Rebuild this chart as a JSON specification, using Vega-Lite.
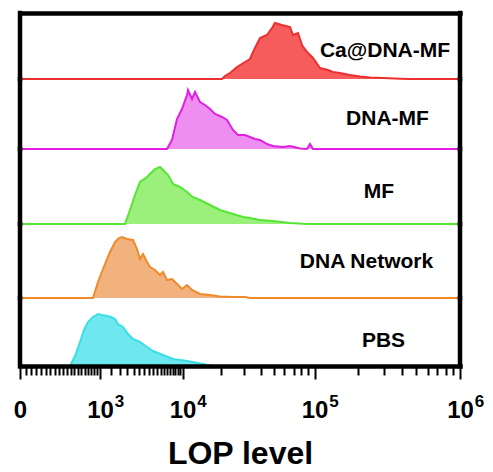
{
  "$schema": "https://vega.github.io/schema/vega-lite/v6.json",
  "padding": {"left": 13, "top": 9, "right": 5, "bottom": 5},
  "background": "white",
  "spacing": 0,
  "bounds": "flush",
  "config": {"view": {"stroke": null}, "font": "Liberation Sans"},
  "datasets": {
    "hist": [
      {"g": "PBS", "x": 0, "c": 0}, {"g": "PBS", "x": 542, "c": 0}, {"g": "PBS", "x": 611, "c": 10}, {"g": "PBS", "x": 682, "c": 24}, {"g": "PBS", "x": 741, "c": 36}, {"g": "PBS", "x": 803, "c": 44}, {"g": "PBS", "x": 882, "c": 49}, {"g": "PBS", "x": 966, "c": 52}, {"g": "PBS", "x": 1084, "c": 51}, {"g": "PBS", "x": 1311, "c": 50}, {"g": "PBS", "x": 1510, "c": 49}, {"g": "PBS", "x": 1727, "c": 47}, {"g": "PBS", "x": 1901, "c": 42}, {"g": "PBS", "x": 2217, "c": 39}, {"g": "PBS", "x": 2567, "c": 32}, {"g": "PBS", "x": 2955, "c": 27}, {"g": "PBS", "x": 3571, "c": 24}, {"g": "PBS", "x": 4282, "c": 19}, {"g": "PBS", "x": 4980, "c": 15}, {"g": "PBS", "x": 5630, "c": 13}, {"g": "PBS", "x": 6351, "c": 11}, {"g": "PBS", "x": 8040, "c": 7}, {"g": "PBS", "x": 10864, "c": 5}, {"g": "PBS", "x": 14522, "c": 2}, {"g": "PBS", "x": 17362, "c": 0}, {"g": "PBS", "x": 1000000, "c": 0},

      {"g": "DNA Network", "x": 0, "c": 0}, {"g": "DNA Network", "x": 882, "c": 0}, {"g": "DNA Network", "x": 966, "c": 16}, {"g": "DNA Network", "x": 1128, "c": 29}, {"g": "DNA Network", "x": 1459, "c": 46}, {"g": "DNA Network", "x": 1727, "c": 56}, {"g": "DNA Network", "x": 1962, "c": 60}, {"g": "DNA Network", "x": 2151, "c": 61}, {"g": "DNA Network", "x": 2494, "c": 59}, {"g": "DNA Network", "x": 2955, "c": 58}, {"g": "DNA Network", "x": 3296, "c": 49}, {"g": "DNA Network", "x": 3571, "c": 39}, {"g": "DNA Network", "x": 3863, "c": 44}, {"g": "DNA Network", "x": 4282, "c": 36}, {"g": "DNA Network", "x": 4620, "c": 31}, {"g": "DNA Network", "x": 5232, "c": 28}, {"g": "DNA Network", "x": 5909, "c": 23}, {"g": "DNA Network", "x": 6351, "c": 26}, {"g": "DNA Network", "x": 6985, "c": 18}, {"g": "DNA Network", "x": 7854, "c": 19}, {"g": "DNA Network", "x": 8818, "c": 14}, {"g": "DNA Network", "x": 9888, "c": 9}, {"g": "DNA Network", "x": 10864, "c": 13}, {"g": "DNA Network", "x": 11904, "c": 8}, {"g": "DNA Network", "x": 13760, "c": 4}, {"g": "DNA Network", "x": 16459, "c": 3}, {"g": "DNA Network", "x": 19651, "c": 1.5}, {"g": "DNA Network", "x": 24690, "c": 1}, {"g": "DNA Network", "x": 30430, "c": 1}, {"g": "DNA Network", "x": 33190, "c": 0}, {"g": "DNA Network", "x": 1000000, "c": 0},

      {"g": "MF", "x": 0, "c": 0}, {"g": "MF", "x": 2352, "c": 0}, {"g": "MF", "x": 2717, "c": 14}, {"g": "MF", "x": 3122, "c": 29}, {"g": "MF", "x": 3571, "c": 42}, {"g": "MF", "x": 4282, "c": 47}, {"g": "MF", "x": 4857, "c": 52}, {"g": "MF", "x": 5232, "c": 55}, {"g": "MF", "x": 5909, "c": 57}, {"g": "MF", "x": 6351, "c": 54}, {"g": "MF", "x": 7152, "c": 49}, {"g": "MF", "x": 8040, "c": 40}, {"g": "MF", "x": 9446, "c": 37}, {"g": "MF", "x": 10864, "c": 32}, {"g": "MF", "x": 12013, "c": 27}, {"g": "MF", "x": 13760, "c": 24}, {"g": "MF", "x": 16459, "c": 19}, {"g": "MF", "x": 19651, "c": 14}, {"g": "MF", "x": 24690, "c": 10}, {"g": "MF", "x": 29390, "c": 7}, {"g": "MF", "x": 33190, "c": 6}, {"g": "MF", "x": 39430, "c": 4}, {"g": "MF", "x": 49300, "c": 3}, {"g": "MF", "x": 65930, "c": 1}, {"g": "MF", "x": 88050, "c": 0}, {"g": "MF", "x": 1000000, "c": 0},

      {"g": "DNA-MF", "x": 0, "c": 0}, {"g": "DNA-MF", "x": 6985, "c": 0}, {"g": "DNA-MF", "x": 7854, "c": 9}, {"g": "DNA-MF", "x": 8818, "c": 30}, {"g": "DNA-MF", "x": 9888, "c": 40}, {"g": "DNA-MF", "x": 10864, "c": 54}, {"g": "DNA-MF", "x": 11065, "c": 59}, {"g": "DNA-MF", "x": 11904, "c": 50}, {"g": "DNA-MF", "x": 12572, "c": 57}, {"g": "DNA-MF", "x": 13760, "c": 47}, {"g": "DNA-MF", "x": 15053, "c": 44}, {"g": "DNA-MF", "x": 16459, "c": 40}, {"g": "DNA-MF", "x": 17990, "c": 35}, {"g": "DNA-MF", "x": 20357, "c": 32}, {"g": "DNA-MF", "x": 22230, "c": 29}, {"g": "DNA-MF", "x": 24690, "c": 19}, {"g": "DNA-MF", "x": 26940, "c": 14}, {"g": "DNA-MF", "x": 30430, "c": 14}, {"g": "DNA-MF", "x": 33190, "c": 12}, {"g": "DNA-MF", "x": 36180, "c": 10}, {"g": "DNA-MF", "x": 39430, "c": 9}, {"g": "DNA-MF", "x": 44480, "c": 5}, {"g": "DNA-MF", "x": 49300, "c": 3}, {"g": "DNA-MF", "x": 58490, "c": 2}, {"g": "DNA-MF", "x": 65930, "c": 3}, {"g": "DNA-MF", "x": 78170, "c": 0.5}, {"g": "DNA-MF", "x": 88050, "c": 0}, {"g": "DNA-MF", "x": 92650, "c": 5}, {"g": "DNA-MF", "x": 97490, "c": 0}, {"g": "DNA-MF", "x": 1000000, "c": 0},

      {"g": "Ca@DNA-MF", "x": 0, "c": 0}, {"g": "Ca@DNA-MF", "x": 20357, "c": 0}, {"g": "Ca@DNA-MF", "x": 21460, "c": 3}, {"g": "Ca@DNA-MF", "x": 23430, "c": 6}, {"g": "Ca@DNA-MF", "x": 26480, "c": 12}, {"g": "Ca@DNA-MF", "x": 30430, "c": 17}, {"g": "Ca@DNA-MF", "x": 33190, "c": 20}, {"g": "Ca@DNA-MF", "x": 34950, "c": 27}, {"g": "Ca@DNA-MF", "x": 39430, "c": 41}, {"g": "Ca@DNA-MF", "x": 44480, "c": 44}, {"g": "Ca@DNA-MF", "x": 48460, "c": 51}, {"g": "Ca@DNA-MF", "x": 51010, "c": 56}, {"g": "Ca@DNA-MF", "x": 57500, "c": 54}, {"g": "Ca@DNA-MF", "x": 65930, "c": 52}, {"g": "Ca@DNA-MF", "x": 69390, "c": 44}, {"g": "Ca@DNA-MF", "x": 75560, "c": 46}, {"g": "Ca@DNA-MF", "x": 80870, "c": 34}, {"g": "Ca@DNA-MF", "x": 88050, "c": 27}, {"g": "Ca@DNA-MF", "x": 97490, "c": 21}, {"g": "Ca@DNA-MF", "x": 109170, "c": 11}, {"g": "Ca@DNA-MF", "x": 123940, "c": 9}, {"g": "Ca@DNA-MF", "x": 134200, "c": 7}, {"g": "Ca@DNA-MF", "x": 149970, "c": 6}, {"g": "Ca@DNA-MF", "x": 175700, "c": 4}, {"g": "Ca@DNA-MF", "x": 205900, "c": 2.5}, {"g": "Ca@DNA-MF", "x": 241200, "c": 1.5}, {"g": "Ca@DNA-MF", "x": 296400, "c": 1}, {"g": "Ca@DNA-MF", "x": 388000, "c": 0.3}, {"g": "Ca@DNA-MF", "x": 454400, "c": 0}, {"g": "Ca@DNA-MF", "x": 1000000, "c": 0}
    ]
  },
  "data": {"name": "hist"},
  "vconcat": [
    {
      "width": 440, "height": 66,
      "transform": [{"filter": "datum.g === 'Ca@DNA-MF'"}],
      "layer": [
        {"mark": {"type": "area", "fill": "#f65c5c", "opacity": 1, "line": {"stroke": "#ee2f2f", "strokeWidth": 2}},
         "encoding": {
           "x": {"field": "x", "type": "quantitative", "scale": {"type": "symlog", "constant": 1000, "domain": [0, 1000, 10000, 100000, 1000000], "range": [0, 80, 162.5, 294.5, 440], "zero": false, "nice": false},
                 "axis": {"orient": "top", "labels": false, "ticks": false, "title": null, "grid": false, "domainColor": "black", "domainWidth": 4.5, "domainCap": "square", "zindex": 1}},
           "y": {"field": "c", "type": "quantitative", "scale": {"domain": [0, 66], "nice": false}, "axis": null}
         }},
        {"mark": {"type": "rule", "color": "black", "strokeWidth": 4.5, "strokeCap": "square"},
         "encoding": {"x": {"aggregate": "min", "field": "x", "type": "quantitative"}}},
        {"mark": {"type": "rule", "color": "black", "strokeWidth": 4.5, "strokeCap": "square"},
         "encoding": {"x": {"aggregate": "max", "field": "x", "type": "quantitative"}}},
        {"data": {"values": [{"g": "Ca@DNA-MF", "label": "Ca@DNA-MF"}]},
         "mark": {"type": "text", "font": "Liberation Sans", "fontSize": 21, "fontWeight": "bold", "color": "black", "align": "center", "baseline": "middle"},
         "encoding": {"text": {"field": "label"},
           "x": {"datum": 305900},
           "y": {"datum": 28.3}}}
      ]
    },
    {
      "width": 440, "height": 70,
      "transform": [{"filter": "datum.g === 'DNA-MF'"}],
      "layer": [
        {"mark": {"type": "area", "fill": "#ee8ef0", "opacity": 1, "line": {"stroke": "#e01fe0", "strokeWidth": 2}},
         "encoding": {
           "x": {"field": "x", "type": "quantitative", "scale": {"type": "symlog", "constant": 1000, "domain": [0, 1000, 10000, 100000, 1000000], "range": [0, 80, 162.5, 294.5, 440], "zero": false, "nice": false}, "axis": null},
           "y": {"field": "c", "type": "quantitative", "scale": {"domain": [0, 70], "nice": false}, "axis": null}
         }},
        {"mark": {"type": "rule", "color": "black", "strokeWidth": 4.5, "strokeCap": "square"},
         "encoding": {"x": {"aggregate": "min", "field": "x", "type": "quantitative"}}},
        {"mark": {"type": "rule", "color": "black", "strokeWidth": 4.5, "strokeCap": "square"},
         "encoding": {"x": {"aggregate": "max", "field": "x", "type": "quantitative"}}},
        {"data": {"values": [{"g": "DNA-MF", "label": "DNA-MF"}]},
         "mark": {"type": "text", "font": "Liberation Sans", "fontSize": 21, "fontWeight": "bold", "color": "black", "align": "center", "baseline": "middle"},
         "encoding": {"text": {"field": "label"},
           "x": {"datum": 318300},
           "y": {"datum": 30}}}
      ]
    },
    {
      "width": 440, "height": 75,
      "transform": [{"filter": "datum.g === 'MF'"}],
      "layer": [
        {"mark": {"type": "area", "fill": "#9af07a", "opacity": 1, "line": {"stroke": "#55e633", "strokeWidth": 2}},
         "encoding": {
           "x": {"field": "x", "type": "quantitative", "scale": {"type": "symlog", "constant": 1000, "domain": [0, 1000, 10000, 100000, 1000000], "range": [0, 80, 162.5, 294.5, 440], "zero": false, "nice": false}, "axis": null},
           "y": {"field": "c", "type": "quantitative", "scale": {"domain": [0, 75], "nice": false}, "axis": null}
         }},
        {"mark": {"type": "rule", "color": "black", "strokeWidth": 4.5, "strokeCap": "square"},
         "encoding": {"x": {"aggregate": "min", "field": "x", "type": "quantitative"}}},
        {"mark": {"type": "rule", "color": "black", "strokeWidth": 4.5, "strokeCap": "square"},
         "encoding": {"x": {"aggregate": "max", "field": "x", "type": "quantitative"}}},
        {"data": {"values": [{"g": "MF", "label": "MF"}]},
         "mark": {"type": "text", "font": "Liberation Sans", "fontSize": 21, "fontWeight": "bold", "color": "black", "align": "center", "baseline": "middle"},
         "encoding": {"text": {"field": "label"},
           "x": {"datum": 278300},
           "y": {"datum": 31.7}}}
      ]
    },
    {
      "width": 440, "height": 74,
      "transform": [{"filter": "datum.g === 'DNA Network'"}],
      "layer": [
        {"mark": {"type": "area", "fill": "#f2b27e", "opacity": 1, "line": {"stroke": "#f0892a", "strokeWidth": 2}},
         "encoding": {
           "x": {"field": "x", "type": "quantitative", "scale": {"type": "symlog", "constant": 1000, "domain": [0, 1000, 10000, 100000, 1000000], "range": [0, 80, 162.5, 294.5, 440], "zero": false, "nice": false}, "axis": null},
           "y": {"field": "c", "type": "quantitative", "scale": {"domain": [0, 74], "nice": false}, "axis": null}
         }},
        {"mark": {"type": "rule", "color": "black", "strokeWidth": 4.5, "strokeCap": "square"},
         "encoding": {"x": {"aggregate": "min", "field": "x", "type": "quantitative"}}},
        {"mark": {"type": "rule", "color": "black", "strokeWidth": 4.5, "strokeCap": "square"},
         "encoding": {"x": {"aggregate": "max", "field": "x", "type": "quantitative"}}},
        {"data": {"values": [{"g": "DNA Network", "label": "DNA Network"}]},
         "mark": {"type": "text", "font": "Liberation Sans", "fontSize": 21, "fontWeight": "bold", "color": "black", "align": "center", "baseline": "middle"},
         "encoding": {"text": {"field": "label"},
           "x": {"datum": 228300},
           "y": {"datum": 36.5}}}
      ]
    },
    {
      "width": 440, "height": 68,
      "transform": [{"filter": "datum.g === 'PBS'"}],
      "resolve": {"axis": {"x": "independent"}},
      "layer": [
        {"mark": {"type": "area", "fill": "#6ee8ee", "opacity": 1, "line": {"stroke": "#3adfe6", "strokeWidth": 2}},
         "encoding": {
           "x": {"field": "x", "type": "quantitative", "scale": {"type": "symlog", "constant": 1000, "domain": [0, 1000, 10000, 100000, 1000000], "range": [0, 80, 162.5, 294.5, 440], "zero": false, "nice": false},
                 "axis": {
                   "orient": "bottom",
                   "values": [0, 50, 100, 150, 200, 250, 300, 350, 400, 450, 500, 550, 600, 650, 700, 750, 800, 850, 900, 950, 1000, 1500, 2000, 2500, 3000, 3500, 4000, 4500, 5000, 5500, 6000, 6500, 7000, 7500, 8000, 8500, 9000, 9500, 10000, 20000, 30000, 40000, 50000, 60000, 70000, 80000, 90000, 100000, 200000, 300000, 400000, 500000, 600000, 700000, 800000, 900000, 1000000],
                   "tickCount": 1000,
                   "labelExpr": "datum.value === 0 ? '0' : (datum.value === 1000 || datum.value === 10000 || datum.value === 100000 || datum.value === 1000000) ? '10' : ''",
                   "labelFont": "Liberation Sans", "labelFontSize": 24, "labelFontWeight": "bold", "labelColor": "black",
                   "labelPadding": 19, "labelOverlap": false, "labelFlush": false, "labelBound": false,
                   "domainColor": "black", "domainWidth": 4.5, "domainCap": "square",
                   "tickColor": "black", "tickWidth": 2,
                   "tickSize": {"condition": {"test": "datum.value === 0 || datum.value === 1000 || datum.value === 10000 || datum.value === 100000 || datum.value === 1000000", "value": 13}, "value": 9},
                   "grid": false, "zindex": 1,
                   "title": "LOP level", "titleFont": "Liberation Sans", "titleFontSize": 32, "titleFontWeight": "bold", "titleColor": "black", "titlePadding": 16
                 }},
           "y": {"field": "c", "type": "quantitative", "scale": {"domain": [0, 68], "nice": false}, "axis": null}
         }},
        {"mark": {"type": "rule", "color": "black", "strokeWidth": 4.5, "strokeCap": "square"},
         "encoding": {"x": {"aggregate": "min", "field": "x", "type": "quantitative", "axis": null}}},
        {"mark": {"type": "rule", "color": "black", "strokeWidth": 4.5, "strokeCap": "square"},
         "encoding": {"x": {"aggregate": "max", "field": "x", "type": "quantitative",
           "axis": {
             "orient": "bottom",
             "values": [1000, 10000, 100000, 1000000],
             "tickCount": 1000,
             "labelExpr": "datum.value === 1000 ? '3' : datum.value === 10000 ? '4' : datum.value === 100000 ? '5' : '6'",
             "labelFont": "Liberation Sans", "labelFontSize": 17, "labelFontWeight": "bold", "labelColor": "black",
             "labelPadding": 27, "labelOffset": 19, "labelOverlap": false, "labelFlush": false, "labelBound": false,
             "domain": false, "ticks": false, "tickSize": 0, "grid": false, "title": null, "zindex": 1
           }}}},
        {"data": {"values": [{"g": "PBS", "label": "PBS"}]},
         "mark": {"type": "text", "font": "Liberation Sans", "fontSize": 21, "fontWeight": "bold", "color": "black", "align": "center", "baseline": "middle"},
         "encoding": {"text": {"field": "label"},
           "x": {"datum": 298700, "axis": null},
           "y": {"datum": 25.5}}}
      ]
    }
  ]
}
